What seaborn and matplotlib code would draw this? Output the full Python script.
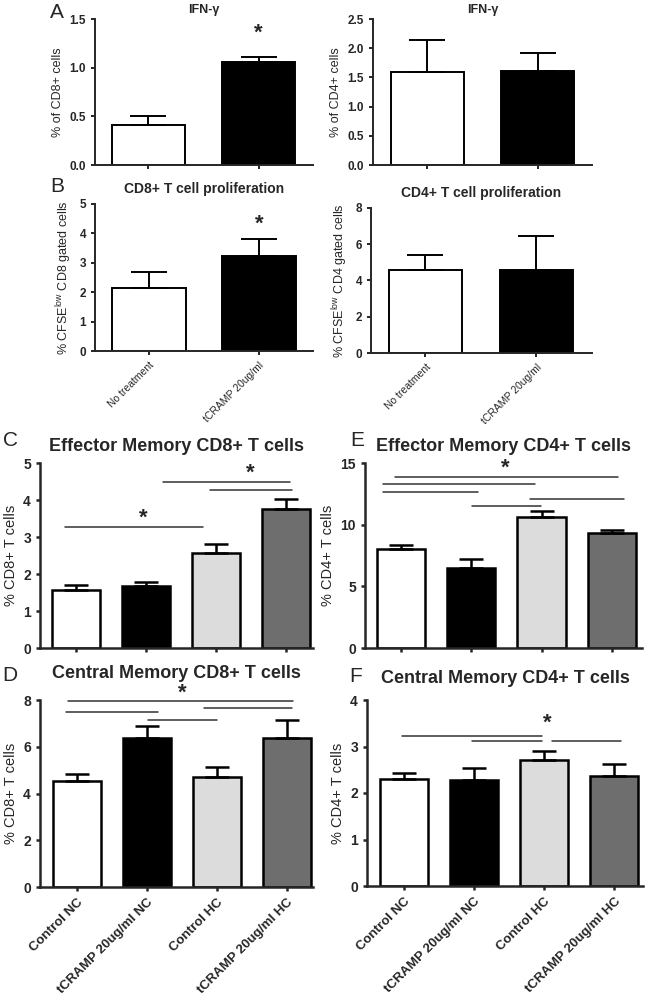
import numpy as np
import seaborn as sns
import matplotlib.pyplot as plt

# ---- data ----
two_groups = ["No treatment", "tCRAMP 20ug/ml"]
four_groups = ["Control NC", "tCRAMP 20ug/ml NC", "Control HC", "tCRAMP 20ug/ml HC"]

ifn_cd8 = [0.41, 1.06]
ifn_cd8_err = [0.09, 0.05]
ifn_cd4 = [1.60, 1.61]
ifn_cd4_err = [0.54, 0.30]

prolif_cd8 = [2.13, 3.22]
prolif_cd8_err = [0.55, 0.60]
prolif_cd4 = [4.57, 4.60]
prolif_cd4_err = [0.83, 1.83]

em_cd8 = [1.57, 1.68, 2.56, 3.77]
em_cd8_err = [0.13, 0.10, 0.25, 0.25]
em_cd4 = [8.03, 6.50, 10.65, 9.32]
em_cd4_err = [0.35, 0.75, 0.45, 0.27]
cm_cd8 = [4.55, 6.37, 4.70, 6.37]
cm_cd8_err = [0.28, 0.52, 0.45, 0.78]
cm_cd4 = [2.31, 2.27, 2.71, 2.37]
cm_cd4_err = [0.13, 0.26, 0.20, 0.25]

# significance brackets (x start, x end, y) and star positions (x, y)
em_cd8_lines = [(-0.16, 1.81, 3.27), (1.24, 3.06, 4.49), (1.91, 3.09, 4.27)]
em_cd8_stars = [(0.96, 3.5), (2.49, 4.72)]
em_cd4_lines = [(-0.09, 3.09, 13.86), (-0.26, 1.91, 13.3), (-0.26, 1.10, 12.65),
                (1.83, 3.17, 12.1), (1.01, 1.99, 11.5)]
em_cd4_stars = [(1.49, 14.55)]
cm_cd8_lines = [(-0.13, 3.09, 7.95), (1.81, 3.07, 7.65), (-0.16, 1.16, 7.48),
                (1.01, 2.0, 7.16)]
cm_cd8_stars = [(1.5, 8.3)]
cm_cd4_lines = [(-0.03, 1.97, 3.22), (0.97, 1.97, 3.12), (2.11, 3.09, 3.12)]
cm_cd4_stars = [(2.04, 3.5)]

two_colors = ["white", "black"]
four_colors = ["white", "black", "#dcdcdc", "#6e6e6e"]

sns.set_style("ticks")
plt.rcParams['font.family'] = ['Liberation Sans', 'DejaVu Sans']
plt.rcParams['mathtext.default'] = 'regular'

W, H = 650, 997
fig = plt.figure(figsize=(W / 100, H / 100), dpi=100)


def px_axes(x0, y0, x1, y1):
    return fig.add_axes([x0 / W, 1 - y1 / H, (x1 - x0) / W, (y1 - y0) / H])


def bars(ax, cats, vals, errs, colors, width, cap, lw, fs):
    sns.barplot(x=cats, y=vals, hue=cats, palette=colors, legend=False,
                edgecolor="black", linewidth=lw, width=width, ax=ax)
    n = len(vals)
    ax.errorbar(np.arange(n), vals, yerr=[np.zeros(n), errs], fmt="none",
                ecolor="black", elinewidth=lw, capsize=cap, capthick=lw, zorder=1)
    sns.despine(ax=ax)
    for s in ["left", "bottom"]:
        ax.spines[s].set_linewidth(lw)
    ax.tick_params(direction="out", length=3, width=lw, labelsize=fs)
    for t in ax.get_yticklabels():
        t.set_fontweight("bold")


def sig(ax, lines, stars, fs):
    for x0, x1, y in lines:
        ax.plot([x0, x1], [y, y], color="#333333", lw=1.1, clip_on=False)
    for x, y in stars:
        ax.text(x, y, "*", ha="center", va="center", fontsize=fs, fontweight="bold")


# ---- A ----
ax = px_axes(95, 19, 313, 165)
bars(ax, two_groups, ifn_cd8, ifn_cd8_err, two_colors, 0.664, 13, 1.4, 8.5)
ax.set_xlim(-0.486, 1.495)
ax.set_ylim(0, 1.5)
ax.set_yticks([0, 0.5, 1.0, 1.5])
ax.set_yticklabels(["0.0", "0.5", "1.0", "1.5"])
ax.set_xticklabels([])
ax.set_ylabel("% of CD8+ cells", fontsize=9)
ax.set_title("IFN-γ", fontsize=9, fontweight="bold", pad=4)
sig(ax, [], [(1, 1.35)], 16)

ax = px_axes(373, 19, 592, 165)
bars(ax, two_groups, ifn_cd4, ifn_cd4_err, two_colors, 0.664, 13, 1.4, 8.5)
ax.set_xlim(-0.495, 1.495)
ax.set_ylim(0, 2.5)
ax.set_yticks(np.arange(0, 2.6, 0.5))
ax.set_yticklabels(["0.0", "0.5", "1.0", "1.5", "2.0", "2.5"])
ax.set_xticklabels([])
ax.set_ylabel("% of CD4+ cells", fontsize=9)
ax.set_title("IFN-γ", fontsize=9, fontweight="bold", pad=4)

# ---- B ----
ax = px_axes(95, 204, 313, 351)
bars(ax, two_groups, prolif_cd8, prolif_cd8_err, two_colors, 0.67, 13, 1.4, 8.5)
ax.set_xlim(-0.49, 1.49)
ax.set_ylim(0, 5)
ax.set_yticks(range(6))
ax.set_xticks([0, 1])
ax.set_xticklabels(two_groups, rotation=45, ha="right", rotation_mode="anchor",
                   fontsize=7.5)
ax.set_ylabel(r"% CFSE$^{low}$ CD8 gated cells", fontsize=9)
ax.set_title("CD8+ T cell proliferation", fontsize=10, fontweight="bold", pad=8)
sig(ax, [], [(1, 4.3)], 16)

ax = px_axes(371, 208, 592, 353)
bars(ax, two_groups, prolif_cd4, prolif_cd4_err, two_colors, 0.66, 13, 1.4, 8.5)
ax.set_xlim(-0.49, 1.5)
ax.set_ylim(0, 8)
ax.set_yticks([0, 2, 4, 6, 8])
ax.set_xticks([0, 1])
ax.set_xticklabels(two_groups, rotation=45, ha="right", rotation_mode="anchor",
                   fontsize=7.5)
ax.set_ylabel(r"% CFSE$^{low}$ CD4 gated cells", fontsize=9)
ax.set_title("CD4+ T cell proliferation", fontsize=10, fontweight="bold", pad=8)

# ---- C / E ----
ax = px_axes(40, 463, 313, 648)
bars(ax, four_groups, em_cd8, em_cd8_err, four_colors, 0.686, 8.6, 1.8, 10)
ax.set_xlim(-0.514, 3.386)
ax.set_ylim(0, 5)
ax.set_xticklabels([])
ax.set_ylabel("% CD8+ T cells", fontsize=10.5)
ax.set_title("Effector Memory CD8+ T cells", fontsize=13, fontweight="bold", pad=9)
sig(ax, em_cd8_lines, em_cd8_stars, 16)

ax = px_axes(365, 463, 642, 648)
bars(ax, four_groups, em_cd4, em_cd4_err, four_colors, 0.686, 8.6, 1.8, 10)
ax.set_xlim(-0.514, 3.43)
ax.set_ylim(0, 15)
ax.set_yticks([0, 5, 10, 15])
ax.set_xticklabels([])
ax.set_ylabel("% CD4+ T cells", fontsize=10.5)
ax.set_title("Effector Memory CD4+ T cells", fontsize=13, fontweight="bold", pad=9)
sig(ax, em_cd4_lines, em_cd4_stars, 16)

# ---- D / F ----
ax = px_axes(40, 700, 313, 887)
bars(ax, four_groups, cm_cd8, cm_cd8_err, four_colors, 0.686, 8.6, 1.8, 10)
ax.set_xlim(-0.53, 3.37)
ax.set_ylim(0, 8)
ax.set_yticks([0, 2, 4, 6, 8])
ax.set_xticks(range(4))
ax.set_xticklabels(four_groups, rotation=45, ha="right", rotation_mode="anchor",
                   fontsize=9.5, fontweight="bold")
ax.set_ylabel("% CD8+ T cells", fontsize=10.5)
ax.set_title("Central Memory CD8+ T cells", fontsize=13, fontweight="bold", pad=16)
sig(ax, cm_cd8_lines, cm_cd8_stars, 16)

ax = px_axes(367, 700, 643, 886)
bars(ax, four_groups, cm_cd4, cm_cd4_err, four_colors, 0.686, 8.6, 1.8, 10)
ax.set_xlim(-0.53, 3.41)
ax.set_ylim(0, 4)
ax.set_yticks([0, 1, 2, 3, 4])
ax.set_xticks(range(4))
ax.set_xticklabels(four_groups, rotation=45, ha="right", rotation_mode="anchor",
                   fontsize=9.5, fontweight="bold")
ax.set_ylabel("% CD4+ T cells", fontsize=10.5)
ax.set_title("Central Memory CD4+ T cells", fontsize=13, fontweight="bold", pad=12)
sig(ax, cm_cd4_lines, cm_cd4_stars, 16)

# panel letters
for letter, x, y in [("A", 57, 12), ("B", 57, 187), ("C", 10, 440),
                     ("D", 10, 675), ("E", 357, 440), ("F", 356, 676)]:
    fig.text(x / W, 1 - y / H, letter, fontsize=15, ha="center", va="center")

fig.savefig("out.png", dpi=100)
